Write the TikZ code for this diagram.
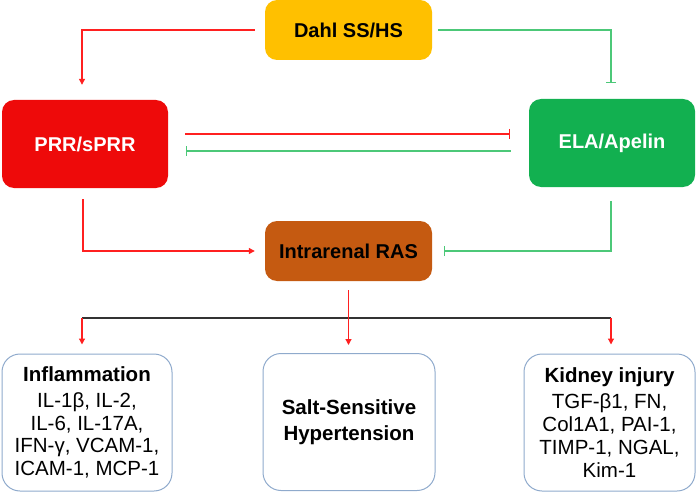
\documentclass[tikz,border=0pt]{standalone}
\usepackage{fontspec}
\setmainfont{Liberation Sans}
\usetikzlibrary{arrows.meta}
\definecolor{dahlfill}{HTML}{FFC000}
\definecolor{prrfill}{HTML}{EE0A0A}
\definecolor{elafill}{HTML}{12B050}
\definecolor{rasfill}{HTML}{C55A11}
\definecolor{boxline}{HTML}{8FAACC}
\definecolor{inhgreen}{HTML}{4CC878}
\definecolor{actred}{HTML}{FF2020}
\tikzstyle{topbox}=[rounded corners=12pt,minimum width=167pt,minimum height=60pt,inner sep=0pt,font=\fontsize{20}{24}\selectfont\bfseries]
\tikzstyle{midbox}=[topbox,minimum width=166pt,minimum height=88pt,text=white]
\tikzstyle{outbox}=[draw=boxline,line width=1pt,rounded corners=18pt,minimum height=137pt,inner sep=0pt,align=center,font=\fontsize{20.5}{22.8}\selectfont]
\tikzstyle{act}=[draw=actred,line width=1.2pt,-{Triangle[length=6pt,width=6pt]}]
\tikzstyle{inh}=[draw=inhgreen,line width=1.2pt,-{Bar[width=10pt]}]
\tikzstyle{redinh}=[inh,draw=actred]

\begin{document}
\begin{tikzpicture}[x=1pt,y=-1pt]
  \useasboundingbox (0,0) rectangle (696,492);

  % First we draw the boxes
  \node[topbox,fill=dahlfill] (dahl) at (348.5,30) {Dahl SS/HS};
  \node[midbox,fill=prrfill] (prr) at (85,144) {PRR/sPRR};
  \node[midbox,fill=elafill] (ela) at (612,143) {ELA/Apelin};
  \node[topbox,fill=rasfill] (ras) at (348.5,251) {Intrarenal RAS};

  \node[outbox,minimum width=170pt] (infl) at (87,422.5)
    {\textbf{Inflammation}\\[3pt]IL-1β, IL-2,\\IL-6, IL-17A,\\IFN-γ, VCAM-1,\\ICAM-1, MCP-1};
  \node[outbox,minimum width=172pt,font=\fontsize{20.5}{26}\selectfont\bfseries] (ssh) at (349,422)
    {Salt-Sensitive\\Hypertension};
  \node[outbox,minimum width=171pt] (kid) at (609.5,422.5)
    {\textbf{Kidney injury}\\[3pt]TGF-β1, FN,\\Col1A1, PAI-1,\\TIMP-1, NGAL,\\Kim-1};

  % Connect the boxes
  \draw[act, shorten <=10pt, shorten >=15pt] (dahl.west) -| ([xshift=-3pt]prr.north);
  \draw[inh, shorten <=6pt, shorten >=16pt] (dahl.east) -| ([xshift=-1pt]ela.north);
  \draw[redinh, shorten <=17pt, shorten >=19pt] ([yshift=10pt]prr.east) -- ([yshift=10pt]prr.east -| ela.west);
  \draw[inh, shorten <=18pt, shorten >=18pt] ([yshift=-8pt]ela.west) -- ([yshift=-8pt]ela.west -| prr.east);
  \draw[act, shorten <=11pt, shorten >=10pt] ([xshift=-2pt]prr.south) |- (ras.west);
  \draw[inh, shorten <=14pt, shorten >=12pt] ([xshift=-1pt]ela.south) |- (ras.east);

  % Split towards the outcomes
  \coordinate (lt) at (82,318);
  \coordinate (rt) at (611,318);
  \draw[black!80, line width=1.2pt] (lt) -- (rt);
  \foreach \from/\to in {lt/infl, rt/kid}
    \draw[act, shorten >=9pt] (\from) -- (\from |- \to.north);
  \draw[act, shorten <=9pt, shorten >=8pt] (ras.south) -- (ras.south |- ssh.north);
\end{tikzpicture}
\end{document}
